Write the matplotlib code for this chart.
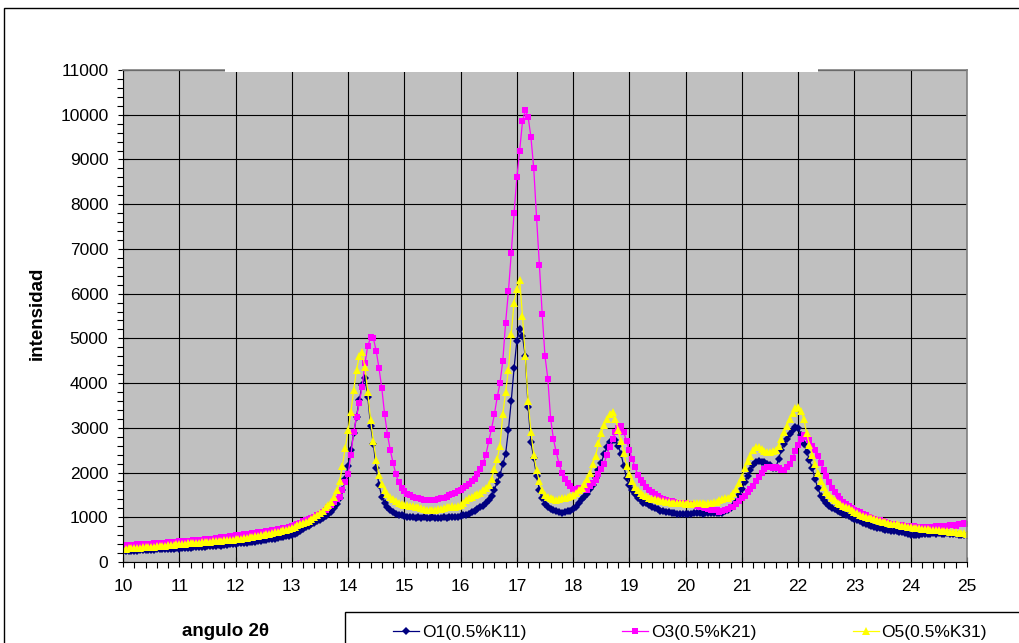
import numpy as np
import matplotlib
matplotlib.use('Agg')
import matplotlib.pyplot as plt
from matplotlib.patches import Rectangle

plt.rcParams['font.family'] = ['Liberation Sans', 'DejaVu Sans']

# 2theta sampling (instrument step 0.05 deg)
angle = np.round(np.arange(10.0, 25.001, 0.05), 2)

# intensity, one row per degree (10.00 ... 10.95, 11.00 ...)
o1 = [
    240, 245, 238, 250, 252, 248, 260, 262, 258, 270, 272, 268, 280, 285, 282, 290, 295, 292, 300, 305,
    300, 310, 315, 312, 322, 328, 325, 335, 340, 338, 350, 355, 352, 365, 372, 368, 385, 390, 395, 402,
    410, 415, 422, 428, 435, 442, 450, 455, 468, 475, 490, 495, 508, 515, 525, 538, 548, 560, 572, 580,
    595, 620, 650, 690, 730, 780, 810, 850, 880, 915, 950, 990, 1030, 1070, 1120, 1210, 1300, 1420, 1600, 1850,
    2150, 2500, 2880, 3250, 3620, 3950, 4120, 3700, 3050, 2640, 2100, 1720, 1460, 1330, 1230, 1160, 1110, 1080, 1060, 1040,
    1020, 1010, 1000, 1015, 990, 1000, 985, 1005, 990, 980, 995, 985, 990, 980, 1000, 990, 1005, 995, 1010, 1005,
    1020, 1040, 1060, 1080, 1110, 1140, 1180, 1220, 1260, 1320, 1380, 1480, 1620, 1780, 1950, 2180, 2420, 2950, 3600, 4330,
    4950, 5200, 5050, 4600, 3470, 2680, 2330, 1920, 1620, 1420, 1300, 1230, 1190, 1160, 1130, 1110, 1100, 1120, 1130, 1150,
    1180, 1240, 1320, 1400, 1460, 1520, 1630, 1720, 1880, 2050, 2220, 2420, 2560, 2680, 2720, 2720, 2600, 2420, 2150, 1870,
    1720, 1600, 1520, 1440, 1380, 1330, 1310, 1270, 1230, 1200, 1180, 1150, 1140, 1120, 1110, 1090, 1090, 1075, 1080, 1070,
    1075, 1080, 1070, 1085, 1090, 1090, 1080, 1095, 1085, 1100, 1090, 1100, 1095, 1100, 1130, 1170, 1200, 1250, 1350, 1500,
    1640, 1780, 1930, 2060, 2160, 2230, 2250, 2240, 2230, 2200, 2160, 2100, 2100, 2300, 2500, 2640, 2750, 2860, 2950, 3020,
    3000, 2850, 2640, 2470, 2280, 2100, 1850, 1650, 1480, 1380, 1320, 1250, 1210, 1180, 1140, 1110, 1080, 1050, 1020, 990,
    960, 940, 910, 880, 850, 830, 800, 780, 765, 750, 740, 725, 710, 700, 695, 690, 680, 660, 640, 620,
    610, 600, 610, 605, 620, 615, 630, 625, 640, 630, 640, 635, 630, 640, 625, 620, 615, 610, 605, 600,
    610,
]

o3 = [
    380, 375, 385, 390, 388, 395, 400, 398, 405, 410, 408, 418, 420, 425, 430, 428, 440, 445, 450, 452,
    460, 465, 470, 468, 480, 485, 490, 495, 500, 505, 512, 520, 525, 530, 545, 560, 552, 565, 580, 590,
    600, 605, 612, 620, 630, 635, 645, 652, 660, 672, 680, 690, 700, 710, 722, 735, 745, 755, 770, 780,
    795, 820, 850, 880, 910, 940, 960, 985, 1010, 1050, 1080, 1120, 1160, 1220, 1280, 1340, 1400, 1460, 1600, 1780,
    1960, 2400, 2900, 3250, 3560, 3920, 4440, 4830, 5020, 5000, 4720, 4330, 3880, 3300, 2850, 2500, 2220, 1960, 1780, 1660,
    1590, 1530, 1490, 1460, 1430, 1420, 1400, 1390, 1380, 1385, 1380, 1395, 1410, 1420, 1440, 1460, 1490, 1520, 1550, 1590,
    1610, 1650, 1700, 1750, 1800, 1860, 1960, 2080, 2210, 2400, 2700, 2980, 3300, 3680, 4000, 4500, 5350, 6050, 6900, 7800,
    8600, 9200, 9850, 10100, 9950, 9500, 8800, 7700, 6650, 5550, 4600, 4100, 3200, 2750, 2450, 2200, 2000, 1850, 1760, 1690,
    1640, 1620, 1650, 1660, 1640, 1620, 1700, 1760, 1830, 1970, 2080, 2200, 2400, 2580, 2740, 2900, 3000, 3050, 2900, 2700,
    2500, 2300, 2120, 1950, 1840, 1760, 1680, 1620, 1560, 1510, 1470, 1440, 1410, 1390, 1370, 1360, 1340, 1330, 1320, 1310,
    1310, 1300, 1290, 1280, 1260, 1240, 1220, 1200, 1190, 1170, 1160, 1160, 1120, 1130, 1160, 1190, 1220, 1240, 1300, 1360,
    1420, 1480, 1560, 1630, 1690, 1800, 1900, 2000, 2080, 2130, 2120, 2100, 2130, 2100, 2060, 2050, 2120, 2200, 2320, 2480,
    2620, 2760, 2850, 2800, 2720, 2600, 2500, 2380, 2220, 2050, 1920, 1780, 1660, 1560, 1480, 1410, 1350, 1300, 1250, 1210,
    1170, 1140, 1110, 1080, 1040, 1000, 980, 960, 945, 930, 910, 890, 870, 860, 845, 835, 830, 820, 810, 800,
    790, 795, 785, 790, 780, 790, 785, 790, 790, 800, 795, 805, 800, 810, 820, 830, 810, 840, 850, 870,
    860,
]

o5 = [
    300, 290, 305, 310, 315, 312, 320, 325, 330, 328, 340, 345, 350, 355, 362, 368, 375, 380, 388, 395,
    400, 405, 410, 415, 418, 425, 430, 435, 440, 445, 450, 455, 460, 465, 470, 478, 482, 488, 492, 500,
    505, 515, 525, 535, 545, 555, 565, 575, 585, 598, 610, 622, 635, 648, 660, 675, 690, 705, 720, 740,
    760, 790, 820, 845, 870, 890, 910, 960, 1010, 1050, 1090, 1150, 1220, 1280, 1350, 1450, 1600, 1800, 2150, 2550,
    2950, 3350, 3850, 4300, 4600, 4700, 4350, 3800, 3170, 2700, 2280, 1950, 1750, 1620, 1530, 1460, 1400, 1360, 1320, 1300,
    1280, 1270, 1260, 1250, 1240, 1220, 1200, 1190, 1170, 1165, 1160, 1170, 1180, 1190, 1210, 1230, 1240, 1245, 1240, 1250,
    1270, 1320, 1380, 1420, 1450, 1490, 1520, 1550, 1600, 1660, 1730, 1860, 2080, 2300, 2600, 3300, 3800, 4300, 5100, 5800,
    6100, 6300, 5500, 4600, 3600, 2900, 2400, 2050, 1800, 1600, 1490, 1450, 1420, 1400, 1390, 1410, 1430, 1440, 1460, 1480,
    1500, 1540, 1600, 1650, 1740, 1850, 1980, 2200, 2380, 2650, 2880, 3060, 3200, 3300, 3360, 3200, 2960, 2700, 2440, 2150,
    1960, 1800, 1680, 1610, 1550, 1500, 1470, 1440, 1410, 1400, 1390, 1370, 1360, 1350, 1340, 1330, 1320, 1320, 1310, 1310,
    1300, 1310, 1300, 1320, 1310, 1310, 1320, 1305, 1320, 1330, 1340, 1350, 1390, 1400, 1420, 1440, 1480, 1540, 1640, 1760,
    1900, 2100, 2250, 2380, 2500, 2580, 2560, 2520, 2490, 2470, 2460, 2480, 2500, 2600, 2740, 2900, 3050, 3200, 3330, 3450,
    3470, 3380, 3200, 2880, 2620, 2400, 2180, 1990, 1820, 1670, 1560, 1490, 1430, 1380, 1330, 1290, 1250, 1220, 1200, 1160,
    1120, 1090, 1060, 1030, 1010, 990, 980, 960, 940, 920, 900, 885, 870, 860, 850, 840, 830, 810, 800, 790,
    780, 770, 760, 755, 745, 740, 730, 725, 720, 715, 710, 700, 695, 690, 680, 670, 660, 655, 650, 640,
    635,
]

labels = ['O1(0.5%K11)', 'O3(0.5%K21)', 'O5(0.5%K31)']

W, H = 1019, 643
fig = plt.figure(figsize=(W / 100, H / 100), dpi=100)
ax = fig.add_axes([123 / W, 1 - 562 / H, (967 - 123) / W, (562 - 70) / H])
ax.set_facecolor('#C0C0C0')
ax.set_axisbelow(True)

h1, = ax.plot(angle, o1, color='#000080', lw=0.9, marker='D', ms=4.2, mew=0)
h3, = ax.plot(angle, o3, color='#FF00FF', lw=0.9, marker='s', ms=4.6, mew=0)
h5, = ax.plot(angle, o5, color='#FFFF00', lw=0.9, marker='^', ms=5.6, mew=0)

ax.set_xlim(10, 25)
ax.set_ylim(0, 11000)
ax.set_xticks(np.arange(10, 26, 1))
ax.set_xticks(np.arange(10, 25.01, 0.2), minor=True)
ax.set_yticks(np.arange(0, 11001, 1000))
ax.set_yticks(np.arange(0, 11001, 200), minor=True)
ax.grid(True, which='major', color='black', lw=0.8)

ax.tick_params(which='major', direction='inout', length=7, width=0.8, labelsize=12.5)
ax.tick_params(which='minor', direction='out', length=4, width=0.8)
ax.tick_params(axis='x', which='major', pad=9)
ax.tick_params(axis='y', which='major', pad=7)

for side in ['left', 'bottom']:
    ax.spines[side].set_color('black')
for side in ['top', 'right']:
    ax.spines[side].set_color('#808080')
    ax.spines[side].set_linewidth(1.2)

# white gap in the top edge of the plot area
fig.patches.append(Rectangle((225 / W, 1 - 72 / H), (818 - 225) / W, 4.5 / H,
                             transform=fig.transFigure, facecolor='white',
                             edgecolor='none', zorder=5))

# outer chart border and legend box (both run off the right/bottom edge)
fig.patches.append(Rectangle((4 / W, -0.1), 1.2, (643 - 8) / H + 0.1,
                             transform=fig.transFigure, fill=False,
                             edgecolor='black', lw=1))
fig.patches.append(Rectangle((345 / W, -0.1), 1.0, (643 - 612) / H + 0.1,
                             transform=fig.transFigure, fill=False,
                             edgecolor='black', lw=1))

fig.legend([h1, h3, h5], labels, loc='center left',
           bbox_to_anchor=(393 / W, 1 - 632 / H), ncol=3, frameon=False,
           fontsize=12.5, handlelength=1.5, handletextpad=0.15,
           columnspacing=5.55, borderpad=0, borderaxespad=0, numpoints=1)

fig.text(226 / W, 1 - 632 / H, 'angulo 2θ', ha='center', va='center',
         fontsize=13.5, fontweight='bold')
fig.text(37 / W, 1 - 313 / H, 'intensidad', ha='center', va='center',
         rotation=90, fontsize=13.5, fontweight='bold')

fig.savefig('out.png', dpi=100)
